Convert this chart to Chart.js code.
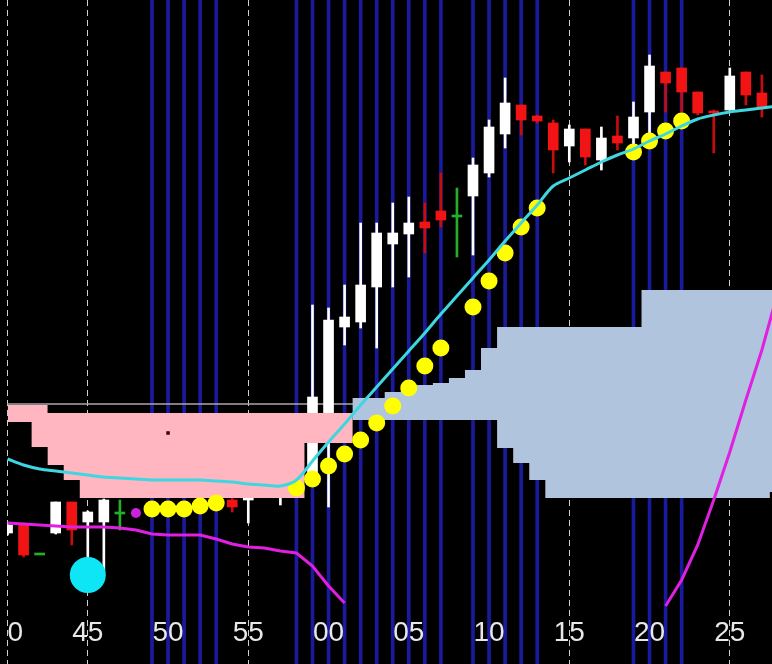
<!DOCTYPE html>
<html lang="en">
<head>
<meta charset="utf-8">
<title>M1 Ichimoku</title>
<script src="https://cdn.jsdelivr.net/npm/chart.js@4.4.1/dist/chart.umd.min.js"></script>
<style>
  html, body { margin: 0; padding: 0; background: #000; }
  #wrap { width: 772px; height: 664px; position: relative; }
  /* terminal window edge: nothing is drawn left of the first bar */
  #chart { clip-path: inset(0 0 0 7px); }
</style>
</head>
<body>
<div id="wrap"><canvas id="chart"></canvas></div>
<script>
// bar minutes (40..59 then 00..28 of the next hour)
var minutes = [40,41,42,43,44,45,46,47,48,49,50,51,52,53,54,55,56,57,58,59,
               60,61,62,63,64,65,66,67,68,69,70,71,72,73,74,75,76,77,78,79,
               80,81,82,83,84,85,86,87,88];
var tickMinutes = [40,45,50,55,60,65,70,75,80,85];

// price levels (screen depth, bigger = lower price)
var openP  = [533,525,554,533,502,522,522,513,null,null,null,null,null,null,500,500,492,497,null,477,
              440,327,322,287,244,234,222,211,216,196,173,134,105,116,123,146,129,160,136,138,
              112,72,68,92,111,110,72,93,null];
var highP  = [523,523,554,502,502,511,499,500,null,null,null,null,null,null,498,495,488,493,null,305,
              308,285,223,223,203,197,203,173,188,158,120,78,105,115,120,125,129,127,116,102,
              55,72,68,92,110,68,72,75,null];
var lowP   = [535,557,554,534,545,560,574,530,null,null,null,null,null,null,512,523,494,505,null,480,
              507,345,328,348,287,277,253,227,257,255,177,148,135,123,173,162,165,170,150,150,
              135,112,112,115,153,110,105,117,null];
var closeP = [525,555,554,502,530,512,500,513,null,null,null,null,null,null,507,497,489,495,null,397,
              320,317,285,233,233,223,228,220,216,165,127,103,120,121,150,129,157,138,143,117,
              66,83,92,113,113,76,95,107,null];

// cloud spans
var spanA = [422,422,447,465,480,498,498,498,498,498,498,498,498,498,498,498,498,498,498,443,
             443,443,398,398,392,388,385,383,378,370,348,327,327,327,327,327,327,327,327,327,
             290,290,290,290,290,290,290,290,290];
var spanB = [405,405,405,413,413,413,413,413,413,413,413,413,413,413,413,413,413,413,413,413,
             413,413,420,420,420,420,420,420,420,420,420,448,463,480,498,498,498,498,498,498,
             498,498,498,498,498,498,498,498,492];

var cyanLine = [459,465,469,471,473,475,477,478,479,480,480,480,480,481,482,484,485,486,480,461,
                442,424,405,387,369,351,333,314,296,278,260,241,223,205,186,178,170,162,155,149,
                141,134,126,119,115,112,110,108,106];
var magentaLine = [523,524,525,526,527,527,527,528,530,534,535,535,535,539,544,547,548,551,553,566,
                   586,603,null,null,null,null,null,null,null,null,null,null,null,null,null,null,null,null,null,null,
                   null,606,580,545,500,452,400,350,292];

var dotMinutes = [49,50,51,52,53,58,59,60,61,62,63,64,65,66,67,69,70,71,72,73,79,80,81,82];
var dotLevels  = [509,509,509,506,503,488,479,466,454,440,423,406,388,366,348,307,281,253,227,208,152,141,131,121];

var signalMinutes = [45,48,50];
var signalLevels  = [575,513,433];

var levelPrice = 404;

// candles
var wicks = [], bodies = [], wickCols = [], bodyCols = [];
minutes.forEach(function (m, i) {
  if (openP[i] == null) return;
  var o = openP[i], c = closeP[i];
  var col = o === c ? '#22b02a' : (c < o ? '#ffffff' : '#f21414');
  wicks.push({x: m, y: [lowP[i], highP[i]]});
  wickCols.push(col === '#f21414' ? '#c80c0c' : col);
  bodies.push({x: m, y: o === c ? [o - 1, o + 1] : [o, c]});
  bodyCols.push(col);
});

function pts(vals) {
  return minutes.map(function (m, i) { return {x: m, y: vals[i]}; });
}

// labels sit inside the plot, so the axis must not push it in
function noPad(s) {
  s.paddingLeft = 0; s.paddingRight = 0; s.paddingTop = 0; s.paddingBottom = 0;
}

new Chart(document.getElementById('chart'), {
  type: 'line',
  data: {
    datasets: [
      {
        type: 'bar', label: 'signal bars', order: 10, grouped: false,
        data: dotMinutes.map(function (m) { return {x: m, y: [0, 664]}; }),
        backgroundColor: '#1a1a9c', barThickness: 3, borderWidth: 0
      },
      {
        label: 'level', order: 9,
        data: [{x: 39, y: levelPrice}, {x: 88, y: levelPrice}],
        borderColor: '#a9a9a9', borderWidth: 1.5, pointRadius: 0, fill: false
      },
      {
        type: 'bar', label: 'wicks', order: 8, grouped: false,
        data: wicks, backgroundColor: wickCols, barThickness: 2, borderWidth: 0
      },
      {
        type: 'bar', label: 'bodies', order: 7, grouped: false,
        data: bodies, backgroundColor: bodyCols, barThickness: 10, borderWidth: 0
      },
      {
        label: 'Senkou A', order: 6, data: pts(spanA), stepped: 'middle',
        borderColor: 'transparent', borderWidth: 0, pointRadius: 0,
        fill: {target: '+1', above: '#b0c4de', below: '#ffb6c1'}
      },
      {
        label: 'Senkou B', order: 5, data: pts(spanB), stepped: 'middle',
        borderColor: 'transparent', borderWidth: 0, pointRadius: 0, fill: false
      },
      {
        label: 'oscillator', order: 4, data: pts(magentaLine),
        borderColor: '#e01fe0', borderWidth: 3, pointRadius: 0, fill: false, spanGaps: false
      },
      {
        label: 'dots', order: 3, showLine: false,
        data: dotMinutes.map(function (m, i) { return {x: m, y: dotLevels[i]}; }),
        pointRadius: 8.5, pointBackgroundColor: '#ffff00', pointBorderWidth: 0
      },
      {
        label: 'kijun', order: 2, data: pts(cyanLine),
        borderColor: '#3ed6e0', borderWidth: 3, pointRadius: 0, tension: 0.3, fill: false
      },
      {
        label: 'signals', order: 1, showLine: false,
        data: signalMinutes.map(function (m, i) { return {x: m, y: signalLevels[i]}; }),
        pointRadius: [18, 5, 2.5],
        pointStyle: ['circle', 'circle', 'rect'],
        pointBackgroundColor: ['#0ee6f5', '#cc22dd', '#3a0606'],
        pointBorderWidth: 0
      }
    ]
  },
  options: {
    responsive: true,
    maintainAspectRatio: false,
    animation: false,
    events: [],
    layout: { padding: 0, autoPadding: false },
    plugins: { legend: { display: false }, tooltip: { enabled: false } },
    scales: {
      y: { type: 'linear', reverse: true, min: 0, max: 664, display: false },
      x: {
        type: 'linear', min: 39.53, max: 87.63, offset: false,
        position: { y: 614 },
        afterFit: noPad,
        afterBuildTicks: function (s) {
          s.ticks = tickMinutes.map(function (v) { return {value: v}; });
        },
        grid: { color: '#cfcfcf', lineWidth: 1, drawTicks: false, offset: false },
        border: { display: false, dash: [6, 4] },
        ticks: {
          z: 1, color: '#e8e8e8', padding: 2, autoSkip: false, maxRotation: 0,
          font: { family: "'Liberation Sans Narrow', 'Liberation Sans', sans-serif", size: 28 },
          callback: function (v) { return String(v % 60).padStart(2, '0'); }
        }
      }
    }
  }
});
</script>
</body>
</html>
